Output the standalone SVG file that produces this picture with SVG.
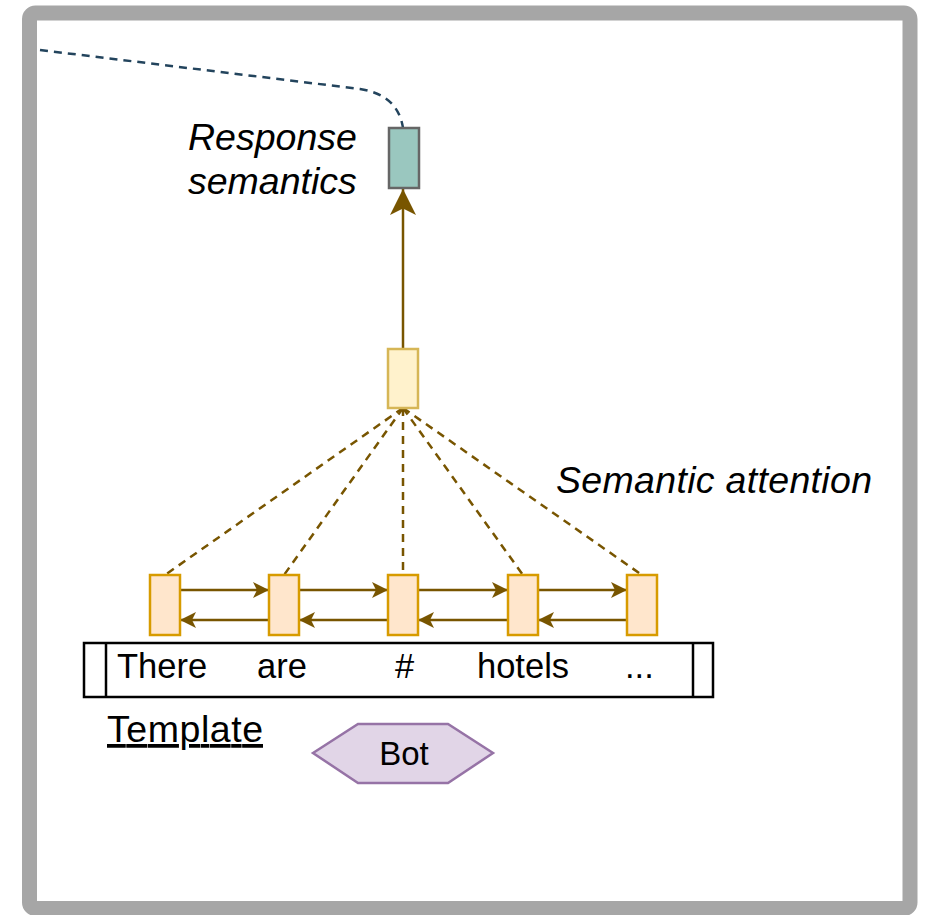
<svg xmlns="http://www.w3.org/2000/svg" width="926" height="915" viewBox="0 0 926 915">
  <style>
    text { font-family: "Liberation Sans", Arial, Helvetica, sans-serif; fill: #000; }
    .it { font-style: italic; font-size: 37.5px; }
    .word { font-size: 34.5px; }
    .cell { fill: #FFE6CC; stroke: #D79B00; stroke-width: 2.5; }
    .edge { fill: none; stroke: #785500; stroke-width: 2.5; }
    .att { fill: none; stroke: #785500; stroke-width: 2.5; stroke-dasharray: 8 6; }
  </style>
  <defs>
    <marker id="ah" viewBox="0 0 20 20" refX="20" refY="10" markerWidth="18" markerHeight="16" markerUnits="userSpaceOnUse" orient="auto">
      <path d="M0,0 L20,10 L0,20 L5,10 Z" fill="#785500"/>
    </marker>
    <marker id="ahBig" viewBox="0 0 20 20" refX="20" refY="10" markerWidth="26" markerHeight="26" markerUnits="userSpaceOnUse" orient="auto">
      <path d="M0,0 L20,10 L0,20 L5,10 Z" fill="#785500"/>
    </marker>
  </defs>

  <rect id="frame" x="29.5" y="13" width="880.5" height="895.5" rx="6" fill="#FFFFFF" stroke="#A6A6A6" stroke-width="15"/>

  <g id="connectors">
    <path d="M40,50 L360,89 Q398,95 403,128" fill="none" stroke="#23445D" stroke-width="2.5" stroke-dasharray="8 6"/>
    <line class="edge" x1="403" y1="348" x2="403" y2="189" stroke-width="3" marker-end="url(#ahBig)"/>
    <line class="att" x1="403" y1="408" x2="165" y2="575"/>
    <line class="att" x1="403" y1="408" x2="284" y2="575"/>
    <line class="att" x1="403" y1="408" x2="403" y2="575"/>
    <line class="att" x1="403" y1="408" x2="523" y2="575"/>
    <line class="att" x1="403" y1="408" x2="642" y2="575"/>
    <line class="edge" x1="180" y1="590" x2="269" y2="590" marker-end="url(#ah)"/>
    <line class="edge" x1="299" y1="590" x2="388" y2="590" marker-end="url(#ah)"/>
    <line class="edge" x1="418" y1="590" x2="508" y2="590" marker-end="url(#ah)"/>
    <line class="edge" x1="538" y1="590" x2="627" y2="590" marker-end="url(#ah)"/>
    <line class="edge" x1="269" y1="620" x2="180" y2="620" marker-end="url(#ah)"/>
    <line class="edge" x1="388" y1="620" x2="299" y2="620" marker-end="url(#ah)"/>
    <line class="edge" x1="508" y1="620" x2="418" y2="620" marker-end="url(#ah)"/>
    <line class="edge" x1="627" y1="620" x2="538" y2="620" marker-end="url(#ah)"/>
  </g>

  <g id="response-node">
    <rect x="389" y="128" width="30" height="60" fill="#9AC7BF" stroke="#666666" stroke-width="2.5"/>
  </g>
  <g id="response-label">
    <text class="it" x="188" y="150">Response</text>
    <text class="it" x="188" y="194">semantics</text>
  </g>

  <g id="attention-node">
    <rect x="388" y="349" width="30" height="59" fill="#FFF2CC" stroke="#D6B656" stroke-width="2.5"/>
  </g>
  <g id="attention-label">
    <text class="it" x="556" y="493" textLength="316">Semantic attention</text>
  </g>

  <g id="cell-1"><rect class="cell" x="150" y="575" width="30" height="60"/></g>
  <g id="cell-2"><rect class="cell" x="269" y="575" width="30" height="60"/></g>
  <g id="cell-3"><rect class="cell" x="388" y="575" width="30" height="60"/></g>
  <g id="cell-4"><rect class="cell" x="508" y="575" width="30" height="60"/></g>
  <g id="cell-5"><rect class="cell" x="627" y="575" width="30" height="60"/></g>

  <g id="template-box">
    <rect x="84" y="643" width="629" height="54" fill="#FFFFFF" stroke="#000000" stroke-width="2.5"/>
    <line x1="106" y1="643" x2="106" y2="697" stroke="#000000" stroke-width="2.5"/>
    <line x1="693" y1="643" x2="693" y2="697" stroke="#000000" stroke-width="2.5"/>
    <text class="word" x="117" y="678">There</text>
    <text class="word" x="257" y="678">are</text>
    <text class="word" x="395" y="678">#</text>
    <text class="word" x="477" y="678">hotels</text>
    <text class="word" x="625" y="678">...</text>
  </g>

  <g id="template-label">
    <text x="107" y="742" font-size="37.5" text-decoration="underline" textLength="156">Template</text>
  </g>

  <g id="bot">
    <polygon points="313,753 358,724 448,724 493,753 448,783 358,783" fill="#E1D5E7" stroke="#9673A6" stroke-width="2.5"/>
    <text x="404" y="765" font-size="33" text-anchor="middle">Bot</text>
  </g>
</svg>
